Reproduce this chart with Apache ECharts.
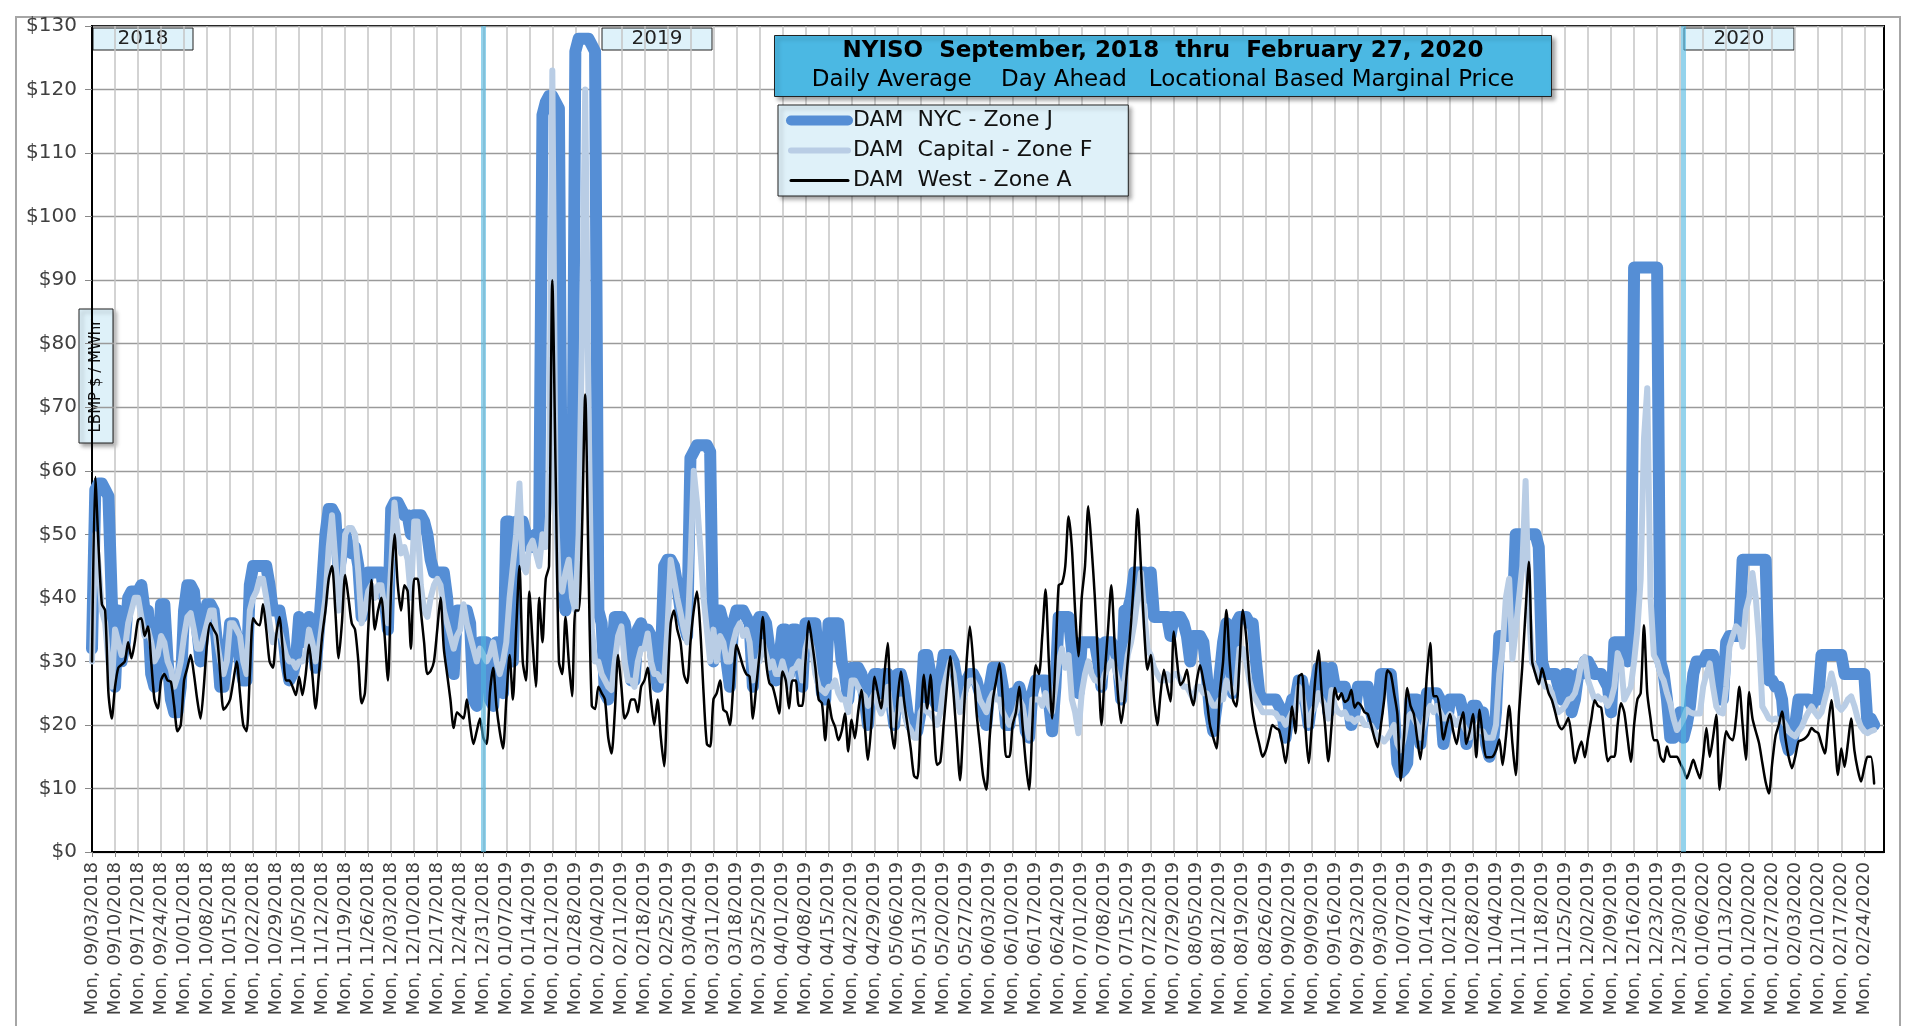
<!DOCTYPE html>
<html>
<head>
<meta charset="utf-8">
<script src="https://cdn.jsdelivr.net/npm/echarts@6/dist/echarts.min.js"></script>
<style>
html,body{margin:0;padding:0;background:#ffffff;}
#chart{width:1915px;height:1026px;}
</style>
</head>
<body>
<div id="chart"></div>
<script>
// ---------- axis / labels ----------
const startYear = 2018, startMonth = 9, startDay = 3;   // first category (Mon, 09/03/2018)
const dayCount = 546;                                    // categories on the axis (through 03/01/2020)
const yMin = 0, yMax = 130, yStep = 10;
const yearLabels = ['2018', '2019', '2020'];
const yearBreaks = ['Mon, 12/31/2018', 'Tue, 12/31/2019'];
const seriesNames = ['DAM  NYC - Zone J', 'DAM  Capital - Zone F', 'DAM  West - Zone A'];
const titleLine1 = 'NYISO  September, 2018  thru  February 27, 2020';
const titleLine2 = 'Daily Average    Day Ahead   Locational Based Marginal Price';
const yAxisTitle = 'LBMP $ / MWhr';

// ---------- daily values, 09/03/2018 .. 02/27/2020 (one row per week) ----------
const nycPrices = [
32,57,58,58,57,56,40,
26,38,30,33,40,41,41,
41,42,38,38,28,26,30,
39,39,30,24,22,22,26,
38,42,42,41,35,30,35,
39,39,38,33,26,26,30,
36,36,34,30,27,27,42,
45,45,45,45,45,42,38,
38,38,35,30,27,28,30,
37,36,33,37,34,29,35,
42,50,54,54,53,44,47,
50,48,47,48,45,37,40,
44,44,44,44,44,40,35,
54,55,55,54,53,53,50,
53,53,53,52,50,46,44,
44,44,44,40,32,28,38,
38,38,38,36,24,23,33,
33,33,24,23,33,28,25,
52,52,30,52,52,52,50,
48,48,50,50,116,118,119,
119,118,117,42,38,42,45,
126,128,128,128,128,127,126,
38,36,25,24,30,37,37,
37,36,33,27,27,35,36,
34,35,34,30,26,30,45,
46,46,45,42,38,36,34,
62,63,64,64,64,64,63,
30,38,38,36,30,26,36,
38,38,38,37,36,26,36,
37,37,36,32,30,27,30,
35,35,28,35,35,33,26,
36,36,36,36,30,25,24,
36,36,36,36,30,28,24,
29,29,29,28,24,20,27,
28,28,25,28,28,24,20,
28,28,26,22,20,19,19,
22,31,31,28,24,23,27,
31,31,31,30,27,24,26,
27,28,28,27,25,22,20,
26,29,29,29,26,20,20,
25,25,26,24,19,18,25,
27,27,27,27,24,19,26,
37,37,37,37,32,28,25,
33,33,33,33,33,30,26,
33,33,33,32,30,24,38,
38,40,44,44,44,44,40,
44,37,37,37,37,37,34,
37,37,37,36,34,30,34,
34,34,33,28,22,19,23,
28,33,36,34,25,36,37,
37,37,36,36,30,25,24,
24,24,24,24,23,22,18,
22,24,24,27,27,24,20,
24,26,29,29,29,22,29,
26,26,26,26,24,20,22,
26,26,26,26,22,20,22,
28,28,28,28,22,14,12.5,
13,14,24,24,24,17,22,
25,25,25,25,24,17,20,
24,24,24,24,22,17,20,
23,23,22,22,17,15,17,
22,34,34,34,34,36,50,
50,50,50,50,50,50,48,
30,28,28,28,28,26,24,
28,28,22,24,28,28,30,
30,29,28,28,28,27,26,
22,33,33,33,33,30,33,
92,92,92,92,92,92,92,
92,30,28,24,18,18,20,
22,18,20,23,28,30,30,
30,31,31,31,28,24,24,
33,34,34,34,34,46,46,
46,46,46,46,46,46,27,
27,26,26,24,18,16,17,
20,24,24,24,24,23,24,
24,31,31,31,31,31,31,
31,28,28,28,28,28,28,
28,20,21,20
];

const capitalPrices = [
30,50,45,38,36,30,26,
35,33,31,32,36,38,40,
40,37,34,35,33,30,31,
34,33,30,28.7,26,27.6,30,
34,37,37.6,35,32,32,34,
36,38,38,33,30,28,30,
36,36,35,34,30,28,38,
40,41,43,43,40,36,33,
34,35,33,31,30,30,29,
30,30,31,35,33,30,32,
36,40,48,53,46,38,42,
50,51,51,50,44,36,38,
41,42,40,42,42,38,36,
45,55,50,47,48,46,40,
52,52,42,38,37,40,42,
43,42,38,36,34,32,34,
35,39,36,34,32,30,32,
31,30,31,33,30,28,30,
33,40,45,50,58,45,44,
48,49,47,45,50,48,55,
123,55,42,41,44,46,40,
38,50,80,120,70,35,30,
30,28,27,26,25.5,30,34,
35.5,30,27,27,26,30,32,
32,34.4,30,28,28,27,27,
35,46,43,40,37.6,35,33,
45,60,55,48,40,35,30,
35,30,34,33,30,30,33,
35,36,34,35,33,27,30,
30,33,31,29,30,28,28,
30,28,26,28.7,29,30,27,
32,34,32,28,26,25.5,25,
26,26,27,25,24,24,22,
27,27,26,25,24.5,23,24,
25,23,21.8,23,26,22,20,
22,24,22,20,19.2,18,18,
22,23,22,21.8,21,20,22,
26,28,30,28,24,22,24,
26,27,27,26,24,23,22,
24,25,24,24,22,21,20,
21,22,24,23,20,18,24,
24,24,23,25,23,22,26,
30,32,29,31,24,22,18.7,
25,28,30,28,27,27,26,
28,29,30,29,27,24,27,
31,33,36,40,44,38,32,
31,29,28,27,27,28,27,
28,28,27,26,26,25,24,
26,26,25,25,24,23,23,
24,24,27,26,25,26,32,
32,30,27,25,24,23,22,
22,22,22,21.8,21,21,20,
21,22,22,26,25,22,20,
22,23,25,24,23,21,25.5,
23,22,21.7,22,21,21,20.5,
21,21,20,20,19.9,19,18,
18,17.4,18,19,20,17,16,
18,21,21.7,21,20,18,20,
22,23,22,23,22,21,21,
21.7,21,20,21,20,19,18,
20,19,19,19,18,18,18,
20,28,32,40,43,30.4,35,
40,45,58.4,38,29.8,29,27,
27,26,26,25,23,22,22.4,
23,24,24.2,25,27,30,30.7,
27,25.5,24,24.5,24,24.2,23,
24,26,31.3,30,24,25,26,
30,35,43,65,73,40,31,
30,28,27,25,23.4,21,19.2,
20,21,22.4,22,21.8,21.8,21.8,
26,28,29.7,26,22.9,22,21.8,
26,32.3,34,35.5,35,32.3,38,
40,43.9,40,33.4,22.9,22,21,
20.8,21,20.8,20.8,20,19,18.5,
18.2,19,19.7,21,22,22.9,22,
21.3,22,24,26,28.1,26,23,
22.4,23,24,24.5,23,21,19.7,
19,18.7,19,19.2
];

const westPrices = [
30,59,48,39,38,25,21,
26,29,29.5,30,33,30.5,33,
36.5,36.8,34,35.5,30,24,22.6,
27,28,27,26.8,23,19,20,
27,29,31,28,24,21,26,
33,36,35,34,28,22.4,23,
24,27,30,25,20,19,28,
36.8,36,35.7,39,35,30,29,
34,37,32,27,27,26,24.7,
27.6,24.7,28,32.6,28,22.6,28,
34,38,43,45,38,30.5,36,
43.6,40,36,35,30,23.4,25,
35,42.8,35,38,40,34,27,
42,50,42,38,42,41,32,
43,43,38,33,28,28.5,30,
35,40,32,28,24,19.5,22,
21.5,21,24,20,17,19,21,
18,17,25,29,23,19,16.3,
24,31,24,35,45,30,27,
41,33,26,40,33,43,45,
90,60,30,28,37,30,24.5,
38,38,50,72,45,23,22.5,
26,25,24,18,15.5,22,31,
26,21,22,24,24,22,26,
27,29,24,20,24,18,13.5,
25,36,38,35,33,28,26.6,
33,38,41,35,25,17,16.6,
24,25,27,22.4,22,20,26,
32.6,31,29.2,28,27.6,21,26,
31,37,30,26.6,26,24,21.8,
28.4,27,22.6,27,27,23,23,
30,36.3,33,29,24,23.4,17.6,
24,21,19.7,17.6,19,21.8,15.8,
20.8,17.9,22,25.5,20,14.5,20,
27.6,25,22.6,28,32.9,20,16.3,
24,28.4,23.7,20,16.3,12,11.6,
20,27.9,22.6,27.9,20,13.7,14.2,
20,26,30.8,25,18,11.3,20,
30,35.5,30,22,17,12,9.8,
18,24,27,29.7,24,15,15,
20,22,26,20,14,9.8,20,
29.4,28,34,41.3,30,21,30,
42,42.3,45,52.8,48,38,30.8,
40,45,54.4,48,40,30,20,
28,35,42,33,25,20.3,24,
30,36,44,54,45,35,28.7,
31,24,20,25,28.7,26,23.7,
34.7,30,26.3,27,28.7,25,23.1,
27,29.4,27,24,20,18,16.3,
25,30,38.1,30,24,22.9,30,
38.1,34,27,22,19.2,17,15,
16,18,20,19.5,19.2,17,14,
18,22.9,18.7,27.6,28,20,14,
20,27,31.7,25,20,14.3,20,
25.8,24,25,23.6,24,25.5,22.7,
23.5,23,22,21.7,20,18,16.5,
20,24,28.6,28,25,21.7,11.2,
18,25.8,23,21.7,18,14.6,20,
28,32.9,24.5,24.5,22,17.7,20,
21.7,19,17,20,22,17,19,
21.7,14.9,22.4,18,14.9,14.9,15,
16,17.7,13.7,18,23,17,12.1,
22,29.2,38,45.7,30,28,26.4,
28.9,27,25,23.9,22,20,19.3,
20,21.1,18,14,16,17.4,14.9,
18,21,23.9,23,22.7,18,14.3,
15,15,20,23.4,22,18,14.2,
20,24,25,35.7,25,21,17.6,
17.6,15,14.2,16.6,15,15,15,
14,13,11.6,13,14.5,13,11.6,
15,19.5,15,18,21.6,9.8,15,
19,18,17.6,21,26,20,14.5,
25.2,21,19,17.1,14,11,9.2,
14,18.2,20,22.1,18,15,13.2,
15,17.4,17.6,17.9,18.5,19.5,19,
18.7,17,15.5,20,23.9,18,12.1,
16.3,13.4,17,21,16,13,11.1,
13.2,15,15,10.8
];

// ---------- build the category axis (daily dates) ----------
const dayNames = ['Sun','Mon','Tue','Wed','Thu','Fri','Sat'];
function pad2(n){ return (n < 10 ? '0' : '') + n; }
const categories = [];
for (let i = 0; i < dayCount; i++) {
  const d = new Date(Date.UTC(startYear, startMonth - 1, startDay + i));
  categories.push(dayNames[d.getUTCDay()] + ', ' + pad2(d.getUTCMonth() + 1) + '/' + pad2(d.getUTCDate()) + '/' + d.getUTCFullYear());
}

const FONT = 'DejaVu Sans';
const NYC_COLOR = '#558ed5', CAP_COLOR = '#b9cde5', WEST_COLOR = '#000000';
const boxShadow = {shadowBlur: 4, shadowOffsetX: 3, shadowOffsetY: 3, shadowColor: 'rgba(0,0,0,0.35)'};

function yearBox(label, x, w) {
  return {
    type: 'group', z: 100,
    children: [
      {type: 'rect', shape: {x: x, y: 28, width: w, height: 22},
       style: {fill: '#def2fa', stroke: '#222', lineWidth: 1}},
      {type: 'text', x: x + w / 2, y: 39,
       style: {text: label, font: '20px "' + FONT + '"', fill: '#222', align: 'center', verticalAlign: 'middle'}}
    ]
  };
}

const chart = echarts.init(document.getElementById('chart'), null, {renderer: 'canvas'});
chart.setOption({
  animation: false,
  backgroundColor: '#ffffff',
  grid: {left: 92, right: 31, top: 26, bottom: 174, show: true, borderColor: '#000', borderWidth: 2, containLabel: false},
  title: {
    text: titleLine1,
    subtext: titleLine2,
    left: 1125, top: 35,
    textAlign: 'center',
    backgroundColor: '#4bb8e3',
    borderColor: '#222', borderWidth: 1,
    padding: [3, 38, 3, 38],
    itemGap: 2,
    shadowBlur: 4, shadowOffsetX: 3, shadowOffsetY: 3, shadowColor: 'rgba(0,0,0,0.35)',
    textStyle: {fontFamily: FONT, fontSize: 23, fontWeight: 'bold', color: '#000', lineHeight: 27},
    subtextStyle: {fontFamily: FONT, fontSize: 23, color: '#000', lineHeight: 27}
  },
  legend: {
    orient: 'vertical',
    left: 778, top: 105,
    data: [
      {name: seriesNames[0], lineStyle: {width: 10, color: NYC_COLOR, cap: 'round'}, itemStyle: {opacity: 0}},
      {name: seriesNames[1], lineStyle: {width: 6, color: CAP_COLOR, cap: 'round'}, itemStyle: {opacity: 0}},
      {name: seriesNames[2], lineStyle: {width: 3, color: WEST_COLOR, cap: 'round'}, itemStyle: {opacity: 0}}
    ],
    selectedMode: false,
    itemWidth: 57, itemHeight: 14, itemGap: 5,
    padding: [3, 36, 3, 8],
    backgroundColor: '#dff1f9',
    borderColor: '#222', borderWidth: 1,
    shadowBlur: 4, shadowOffsetX: 3, shadowOffsetY: 3, shadowColor: 'rgba(0,0,0,0.35)',
    textStyle: {fontFamily: FONT, fontSize: 22, color: '#111', lineHeight: 25}
  },
  xAxis: {
    type: 'category',
    data: categories,
    boundaryGap: false,
    axisLine: {lineStyle: {color: '#000', width: 2}},
    axisTick: {show: true, interval: 6, length: 5, lineStyle: {color: '#888'}},
    axisLabel: {interval: 6, rotate: 90, margin: 10, fontFamily: FONT, fontSize: 18, color: '#404040'},
    splitLine: {show: true, interval: 6, lineStyle: {color: '#c4c4c4', width: 1.5}}
  },
  yAxis: {
    type: 'value',
    min: yMin, max: yMax, interval: yStep,
    axisLine: {show: true, lineStyle: {color: '#000', width: 2}},
    axisTick: {show: true, length: 7, lineStyle: {color: '#888'}},
    axisLabel: {formatter: '${value}', margin: 15, fontFamily: FONT, fontSize: 20, color: '#404040'},
    splitLine: {show: true, lineStyle: {color: '#9a9a9a', width: 1.3}}
  },
  series: [
    {name: seriesNames[0], type: 'line', data: nycPrices, symbol: 'none', z: 2,
     lineStyle: {color: NYC_COLOR, width: 12, cap: 'round', join: 'round'}, itemStyle: {color: NYC_COLOR}},
    {name: seriesNames[1], type: 'line', data: capitalPrices, symbol: 'none', z: 3,
     lineStyle: {color: CAP_COLOR, width: 6, cap: 'round', join: 'round'}, itemStyle: {color: CAP_COLOR}},
    {name: seriesNames[2], type: 'line', data: westPrices, symbol: 'none', z: 4, smooth: 0.25,
     lineStyle: {color: WEST_COLOR, width: 2.5, cap: 'round', join: 'round'}, itemStyle: {color: WEST_COLOR}},
    {name: 'yearBreaks', type: 'line', data: [], z: 6,
     markLine: {silent: true, symbol: ['none', 'none'], label: {show: false},
       lineStyle: {color: 'rgba(76,181,224,0.6)', width: 5, type: 'solid'},
       data: yearBreaks.map(function (c) { return {xAxis: c}; })}}
  ],
  graphic: [
    {type: 'rect', z: 0, silent: true, shape: {x: 16, y: 17, width: 1884, height: 1040},
     style: {fill: 'none', stroke: '#a6a6a6', lineWidth: 2}},
    yearBox(yearLabels[0], 93, 100),
    yearBox(yearLabels[1], 602, 110),
    yearBox(yearLabels[2], 1684, 110),
    {type: 'group', z: 100, children: [
      {type: 'rect', shape: {x: 79, y: 309, width: 34, height: 134},
       style: Object.assign({fill: '#def1f9', stroke: '#222', lineWidth: 1}, boxShadow)},
      {type: 'text', x: 96, y: 376, rotation: Math.PI / 2,
       style: {text: yAxisTitle, font: '15px "' + FONT + '"', fill: '#111', align: 'center', verticalAlign: 'middle'}}
    ]}
  ]
});
</script>
</body>
</html>
